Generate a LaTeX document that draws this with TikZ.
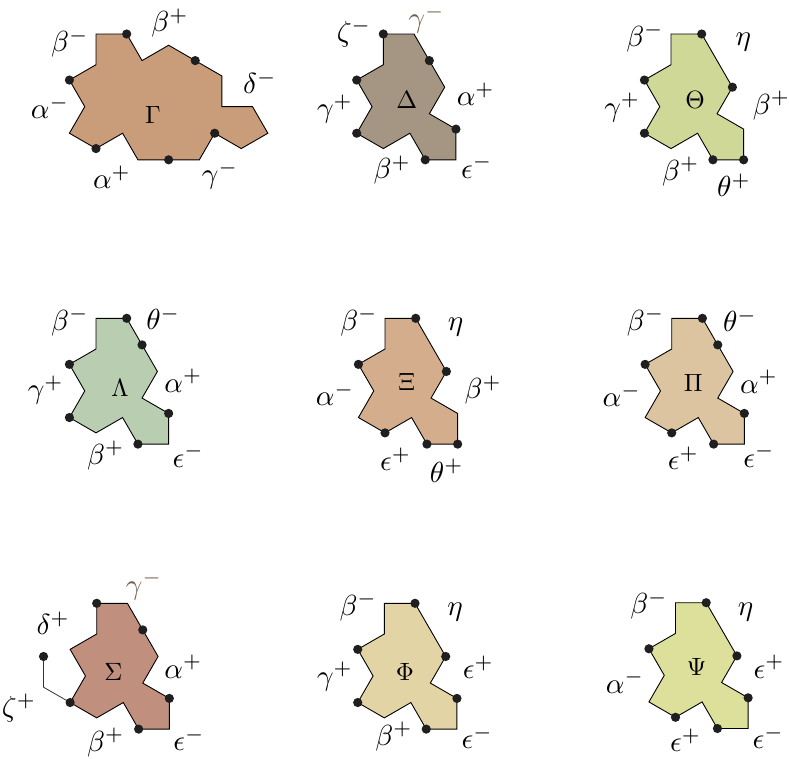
\documentclass[tikz,border=0pt]{standalone}
\usetikzlibrary{calc}
\newdimen\polyu
\polyu=30.7pt
\definecolor{cGamma}{RGB}{201,156,122}
\definecolor{cDelta}{RGB}{165,150,132}
\definecolor{cTheta}{RGB}{208,216,152}
\definecolor{cLambda}{RGB}{185,205,177}
\definecolor{cXi}{RGB}{212,174,140}
\definecolor{cPi}{RGB}{220,196,160}
\definecolor{cSigma}{RGB}{192,143,126}
\definecolor{cPhi}{RGB}{227,212,166}
\definecolor{cPsi}{RGB}{221,224,154}
\definecolor{cLab}{RGB}{112,96,74}
\tikzset{
  poly/.style={draw=black, line width=0.9pt, line join=miter},
  dotc/.style={fill=black!88},
  lab/.style={inner sep=0pt},
  cen/.style={inner sep=0pt},
}
\newcommand{\glab}[1]{\scalebox{2.9}{$#1$}}
\newcommand{\gcen}[1]{\scalebox{2.5}{$#1$}}
\newcommand{\baseshape}[3]{%
  \draw[poly, fill=#3] (#2) coordinate (#1v0)
    -- ++(0:\polyu) coordinate (#1v1)
    -- ++(-60:2*\polyu) coordinate (#1v2)
    -- ++(-120:\polyu) coordinate (#1v3)
    -- ++(-30:\polyu) coordinate (#1v4)
    -- ++(-90:\polyu) coordinate (#1v5)
    -- ++(180:\polyu) coordinate (#1v6)
    -- ++(120:\polyu) coordinate (#1v7)
    -- ++(-150:\polyu) coordinate (#1v8)
    -- ++(150:\polyu) coordinate (#1v9)
    -- ++(60:\polyu) coordinate (#1v10)
    -- ++(120:\polyu) coordinate (#1v11)
    -- ++(30:\polyu) coordinate (#1v12)
    -- cycle;
  \coordinate (#1m12) at ($(#1v1)!0.5!(#1v2)$);
}
\newcommand{\mydots}[1]{\foreach \q in {#1}{\fill[dotc] (\q) circle (4.6pt);}}
\begin{document}
\begin{tikzpicture}[x=1pt,y=-1pt]
\useasboundingbox (0,0) rectangle (789,758);
% ---------- Gamma ----------
\draw[poly, fill=cGamma] (96,34) coordinate (Gp0)
  -- ++(0:\polyu) coordinate (Gp1)
  -- ++(-60:\polyu) coordinate (Gp2)
  -- ++(30:\polyu) coordinate (Gp3)
  -- ++(-30:2*\polyu) coordinate (Gp4)
  -- ++(-90:\polyu) coordinate (Gp5)
  -- ++(0:\polyu) coordinate (Gp6)
  -- ++(-60:\polyu) coordinate (Gp7)
  -- ++(-150:\polyu) coordinate (Gp8)
  -- ++(150:\polyu) coordinate (Gp9)
  -- ++(-120:\polyu) coordinate (Gp10)
  -- ++(180:2*\polyu) coordinate (Gp11)
  -- ++(120:\polyu) coordinate (Gp12)
  -- ++(-150:\polyu) coordinate (Gp13)
  -- ++(150:\polyu) coordinate (Gp14)
  -- ++(60:\polyu) coordinate (Gp15)
  -- ++(120:\polyu) coordinate (Gp16)
  -- ++(30:\polyu) coordinate (Gp17)
  -- cycle;
\coordinate (Gm34) at ($(Gp3)!0.5!(Gp4)$);
\coordinate (Gm1011) at ($(Gp10)!0.5!(Gp11)$);
\mydots{Gp1,Gm34,Gp9,Gm1011,Gp13,Gp16}
\node[cen] (GammaL) at (153,115) {\gcen{\Gamma}};
\node[lab] (G1) at (70,43) {\glab{\beta^-}};
\node[lab] (G2) at (170,23) {\glab{\beta^+}};
\node[lab] (G3) at (260,82) {\glab{\delta^-}};
\node[lab] (G4) at (50,107) {\glab{\alpha^-}};
\node[lab] (G5) at (112,177) {\glab{\alpha^+}};
\node[lab] (G6) at (220,175) {\glab{\gamma^-}};
% ---------- Delta ----------
\baseshape{D}{383.3,34}{cDelta}
\mydots{Dv0,Dm12,Dv11,Dv9,Dv6,Dv4}
\node[cen] (DeltaL) at (406.7,100) {\gcen{\Delta}};
\node[lab] (D1) at (354,33) {\glab{\zeta^-}};
\node[lab,text=cLab,anchor=north] (D2) at (426.7,4.5) {\glab{\gamma^-}};
\node[lab] (D3) at (335,109) {\glab{\gamma^+}};
\node[lab] (D4) at (475.7,94) {\glab{\alpha^+}};
\node[lab] (D5) at (392.3,170) {\glab{\beta^+}};
\node[lab] (D6) at (476.7,166.7) {\glab{\epsilon^-}};
% ---------- Theta ----------
\baseshape{T}{671,34}{cTheta}
\mydots{Tv1,Tv2,Tv11,Tv9,Tv6,Tv5}
\node[cen] (ThetaL) at (695,100) {\gcen{\Theta}};
\node[lab] (T1) at (645,37.3) {\glab{\beta^-}};
\node[lab] (T2) at (743.3,42.3) {\glab{\eta}};
\node[lab] (T3) at (622.3,107.3) {\glab{\gamma^+}};
\node[lab] (T4) at (771.5,105.7) {\glab{\beta^+}};
\node[lab] (T5) at (680.7,171.7) {\glab{\beta^+}};
\node[lab] (T6) at (734,185) {\glab{\theta^+}};
% ---------- Lambda ----------
\baseshape{L}{96,318.3}{cLambda}
\mydots{Lv1,Lm12,Lv11,Lv9,Lv6,Lv4}
\node[cen] (LambdaL) at (120,388.3) {\gcen{\Lambda}};
\node[lab] (L1) at (70,321.7) {\glab{\beta^-}};
\node[lab] (L2) at (163.3,318.3) {\glab{\theta^-}};
\node[lab] (L3) at (45.7,390) {\glab{\gamma^+}};
\node[lab] (L4) at (183.3,380.7) {\glab{\alpha^+}};
\node[lab] (L5) at (105.7,455.7) {\glab{\beta^+}};
\node[lab] (L6) at (188.3,455.7) {\glab{\epsilon^-}};
% ---------- Xi ----------
\baseshape{X}{385,318.3}{cXi}
\mydots{Xv1,Xv2,Xv11,Xv8,Xv6,Xv5}
\node[cen] (XiL) at (406.7,381.7) {\gcen{\Xi}};
\node[lab] (X1) at (359,321.7) {\glab{\beta^-}};
\node[lab] (X2) at (455.7,326.7) {\glab{\eta}};
\node[lab] (X3) at (335,394) {\glab{\alpha^-}};
\node[lab] (X4) at (483.3,390) {\glab{\beta^+}};
\node[lab] (X5) at (395.7,459) {\glab{\epsilon^+}};
\node[lab] (X6) at (446.7,470.7) {\glab{\theta^+}};
% ---------- Pi ----------
\baseshape{P}{671.7,318.3}{cPi}
\mydots{Pv1,Pm12,Pv11,Pv8,Pv6,Pv4}
\node[cen] (PiL) at (693.3,383.3) {\gcen{\Pi}};
\node[lab] (P1) at (645.7,321.7) {\glab{\beta^-}};
\node[lab] (P2) at (740,320) {\glab{\theta^-}};
\node[lab] (P3) at (621.7,395) {\glab{\alpha^-}};
\node[lab] (P4) at (759,381.7) {\glab{\alpha^+}};
\node[lab] (P5) at (683.3,458.3) {\glab{\epsilon^+}};
\node[lab] (P6) at (759,455.7) {\glab{\epsilon^-}};
% ---------- Sigma ----------
\baseshape{S}{96.7,603.3}{cSigma}
\draw[line width=0.8pt, draw=black!80] (Sv9) -- ++(150:\polyu) coordinate (Se1) -- ++(90:\polyu) coordinate (Se2);
\mydots{Sv0,Sm12,Sv4,Sv6,Sv9,Se2}
\node[cen] (SigmaL) at (113.3,671.7) {\gcen{\Sigma}};
\node[lab,text=cLab] (S1) at (144,585.7) {\glab{\gamma^-}};
\node[lab] (S2) at (53.3,623.3) {\glab{\delta^+}};
\node[lab] (S3) at (19,708) {\glab{\zeta^+}};
\node[lab] (S4) at (183.3,666.7) {\glab{\alpha^+}};
\node[lab] (S5) at (105.7,742.3) {\glab{\beta^+}};
\node[lab] (S6) at (189,739) {\glab{\epsilon^-}};
% ---------- Phi ----------
\baseshape{F}{384.3,603.3}{cPhi}
\mydots{Fv1,Fv2,Fv11,Fv9,Fv6,Fv4}
\node[cen] (PhiL) at (405,671.7) {\gcen{\Phi}};
\node[lab] (F1) at (358.3,606.7) {\glab{\beta^-}};
\node[lab] (F2) at (455,612.3) {\glab{\eta}};
\node[lab] (F3) at (335,676.7) {\glab{\gamma^+}};
\node[lab] (F4) at (478.3,667.3) {\glab{\epsilon^+}};
\node[lab] (F5) at (394,736.7) {\glab{\beta^+}};
\node[lab] (F6) at (477.3,737.3) {\glab{\epsilon^-}};
% ---------- Psi ----------
\baseshape{Y}{675.5,602.7}{cPsi}
\mydots{Yv1,Yv2,Yv11,Yv8,Yv6,Yv4}
\node[cen] (PsiL) at (696.7,666.7) {\gcen{\Psi}};
\node[lab] (Y1) at (649,605) {\glab{\beta^-}};
\node[lab] (Y2) at (745.7,612.3) {\glab{\eta}};
\node[lab] (Y3) at (625,681.7) {\glab{\alpha^-}};
\node[lab] (Y4) at (769,666.7) {\glab{\epsilon^+}};
\node[lab] (Y5) at (685.7,740) {\glab{\epsilon^+}};
\node[lab] (Y6) at (768.3,737.3) {\glab{\epsilon^-}};
\end{tikzpicture}
\end{document}
